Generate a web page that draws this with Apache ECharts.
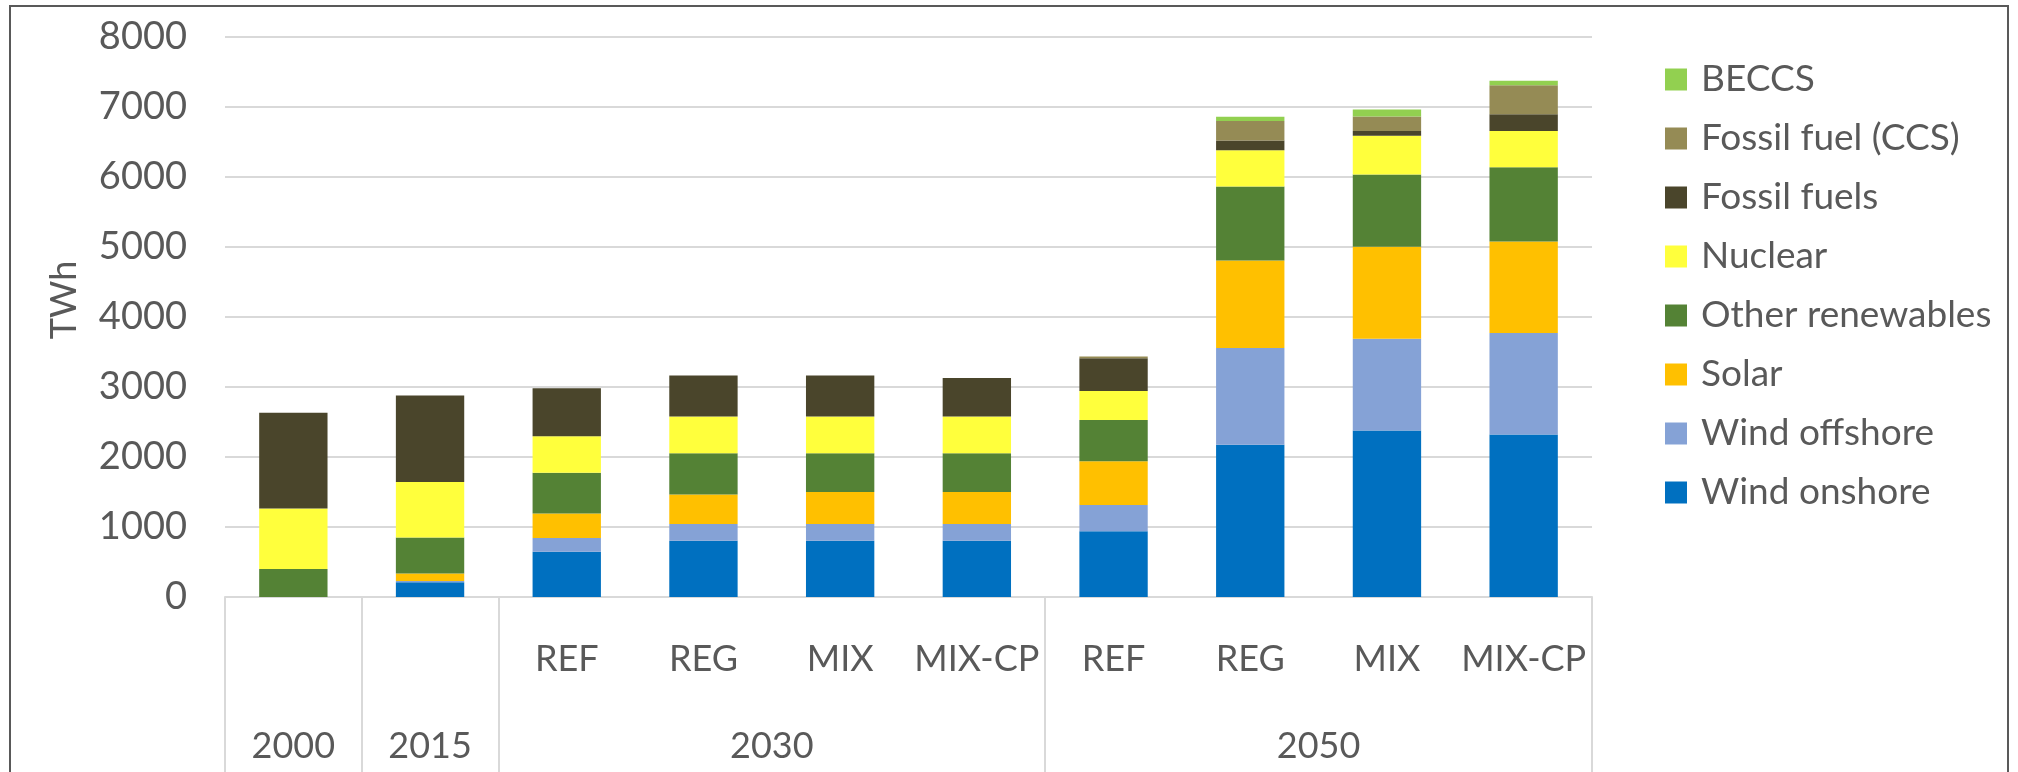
<!DOCTYPE html>
<html>
<head>
<meta charset="utf-8">
<script src="https://cdn.jsdelivr.net/npm/echarts@6/dist/echarts.min.js"></script>
<style>
html,body{margin:0;padding:0;background:#fff;}
#chart{width:2018px;height:772px;}
</style>
</head>
<body>
<div id="chart"></div>
<script>
// Categories (year | scenario)
const years = ['2000', '2015', '2030', '2030', '2030', '2030', '2050', '2050', '2050', '2050'];
const scenarios = ['', '', 'REF', 'REG', 'MIX', 'MIX-CP', 'REF', 'REG', 'MIX', 'MIX-CP'];
// Group labels on a half-step axis (21 slots, boundaryGap false)
const groupLabels = ['', '2000', '', '2015', '', '', '', '', '2030', '', '', '', '', '', '', '', '2050', '', '', '', ''];
const groupSeparators = [0, 2, 4, 12, 20];

// Series values (TWh)
const windOnshore   = [0,    210,  646,  803,  803,  803,  940,  2176, 2380, 2320];
const windOffshore  = [0,    20,   196,  240,  240,  240,  375,  1380, 1310, 1450];
const solar         = [0,    107,  351,  423,  457,  457,  625,  1250, 1315, 1310];
const otherRenew    = [400,  512,  582,  587,  553,  553,  590,  1060, 1032, 1060];
const nuclear       = [863,  793,  520,  524,  524,  524,  414,  515,  552,  516];
const fossilFuels   = [1369, 1235, 687,  586,  586,  553,  466,  140,  67,   241];
const fossilCCS     = [0,    0,    0,    0,    0,    0,    25,   280,  210,  414];
const beccs         = [0,    0,    0,    0,    0,    0,    0,    60,   100,  64];

const yTicks = { min: 0, max: 8000, interval: 1000 };

const seriesDefs = [
  { name: 'Wind onshore', data: windOnshore, color: '#0070C0' },
  { name: 'Wind offshore', data: windOffshore, color: '#85A2D6' },
  { name: 'Solar', data: solar, color: '#FFC000' },
  { name: 'Other renewables', data: otherRenew, color: '#548235' },
  { name: 'Nuclear', data: nuclear, color: '#FFFF3C' },
  { name: 'Fossil fuels', data: fossilFuels, color: '#4A452B' },
  { name: 'Fossil fuel (CCS)', data: fossilCCS, color: '#958B55' },
  { name: 'BECCS', data: beccs, color: '#92D050' }
];

const FONT = 'Lato';
const TXT = '#595959';
const GRIDC = '#D9D9D9';

const chart = echarts.init(document.getElementById('chart'), null, { renderer: 'canvas' });
const catKeys = years.map((y, i) => y + '|' + scenarios[i] + '|' + i);

chart.setOption({
  backgroundColor: '#fff',
  animation: false,
  textStyle: { fontFamily: FONT },
  graphic: [{
    type: 'rect',
    shape: { x: 10, y: 6, width: 1998, height: 800 },
    style: { fill: 'none', stroke: '#595959', lineWidth: 2 },
    silent: true
  }],
  grid: { left: 225, right: 426, top: 37, bottom: 175, containLabel: false },
  legend: {
    orient: 'vertical',
    left: 1660,
    top: 56,
    itemWidth: 22,
    itemHeight: 22,
    itemGap: 22,
    icon: 'rect',
    data: seriesDefs.slice().reverse().map(s => s.name),
    textStyle: { fontFamily: FONT, fontSize: 37, color: TXT, padding: [0, 0, 0, 9] }
  },
  xAxis: [{
    type: 'category',
    position: 'bottom',
    data: catKeys,
    axisLine: { show: true, lineStyle: { color: GRIDC, width: 2 } },
    axisTick: { show: false },
    axisLabel: {
      interval: 0, margin: 44,
      fontFamily: FONT, fontSize: 36, color: TXT,
      formatter: (v) => v.split('|')[1]
    },
    splitLine: { show: false }
  }, {
    type: 'category',
    position: 'bottom',
    boundaryGap: false,
    data: groupLabels,
    axisLine: { show: false },
    axisTick: {
      show: true, length: 180, inside: false,
      interval: (idx) => groupSeparators.indexOf(idx) >= 0,
      lineStyle: { color: GRIDC, width: 2 }
    },
    axisLabel: {
      interval: 0, margin: 131,
      fontFamily: FONT, fontSize: 36, color: TXT
    },
    splitLine: { show: false }
  }],
  yAxis: {
    type: 'value',
    min: yTicks.min, max: yTicks.max, interval: yTicks.interval,
    name: 'TWh',
    nameLocation: 'middle',
    nameGap: 143,
    nameTextStyle: { fontFamily: FONT, fontSize: 36, color: TXT, padding: [0, 0, 0, 34] },
    axisLine: { show: false },
    axisTick: { show: false },
    axisLabel: { margin: 38, fontFamily: FONT, fontSize: 38, color: TXT, formatter: (v) => String(v) },
    splitLine: { lineStyle: { color: GRIDC, width: 2 } }
  },
  series: seriesDefs.map(s => ({
    name: s.name,
    type: 'bar',
    stack: 'total',
    barCategoryGap: '50%',
    data: s.data,
    itemStyle: { color: s.color },
    emphasis: { disabled: true }
  }))
});
</script>
</body>
</html>
